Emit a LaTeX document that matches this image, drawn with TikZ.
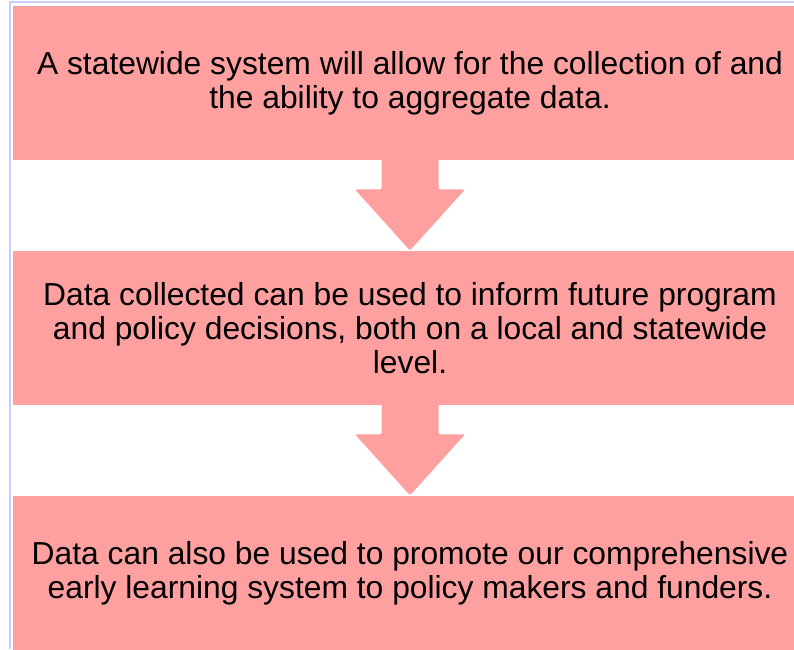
\documentclass[tikz,border=0pt]{standalone}
\usepackage{fontspec}
\setmainfont{Liberation Sans}
\usepackage{tikz}
\usetikzlibrary{positioning,calc}
\definecolor{boxpink}{RGB}{255,160,160}
\definecolor{framelav}{RGB}{204,204,255}

\begin{document}
\begin{tikzpicture}[x=1pt,y=-1pt,node distance=90pt,
			box node/.style={rectangle,fill=boxpink,inner sep=0pt,
				minimum width=795pt,minimum height=154.5pt,align=center,
				font=\fontsize{31.8}{34}\selectfont}]
			
			\useasboundingbox (0,0) rectangle (794,649);
			\draw[framelav,line width=1.5pt] (10,649) -- (10,2) -- (794,2);
			
			\node[box node] (S) at (410,83) {A statewide system will allow for the collection of and\\the ability to aggregate data.};
			\node[box node] (D) [below=of S] {Data collected can be used to inform future program\\and policy decisions, both on a local and statewide\\level.};
			\node[box node] (P) [below=of D] {Data can also be used to promote our comprehensive\\early learning system to policy makers and funders.};
			
			\foreach \a/\b in {S/D,D/P}
			\fill[boxpink,rounded corners=1.5pt]
			($(\a.south)+(-28.5,-2)$) -- ($(\a.south)+(-28.5,29)$)
			-- ($(\a.south)+(-55,29)$) -- (\b.north)
			-- ($(\a.south)+(55,29)$) -- ($(\a.south)+(28.5,29)$)
			-- ($(\a.south)+(28.5,-2)$) -- cycle;
		\end{tikzpicture}
\end{document}
